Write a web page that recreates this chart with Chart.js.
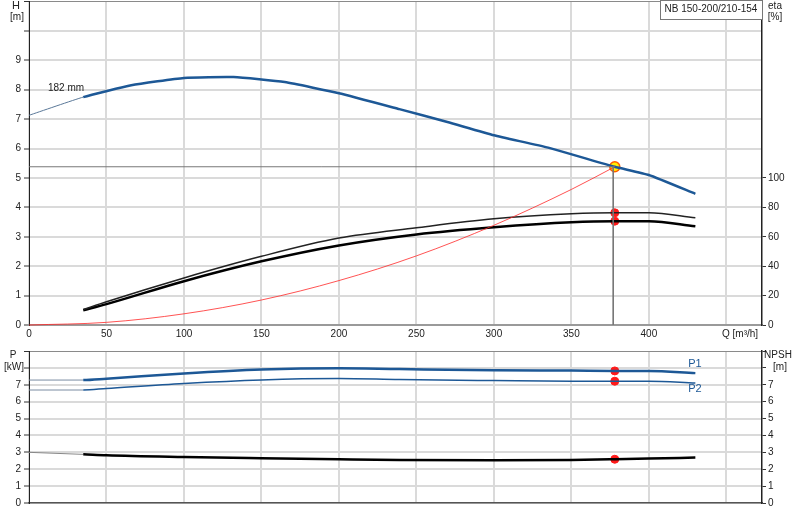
<!DOCTYPE html>
<html lang="en">
<head>
<meta charset="UTF-8">
<title>NB 150-200/210-154</title>
<script src="https://cdn.jsdelivr.net/npm/chart.js"></script>
<style>
    body { margin: 0; background: #fff; }
    #wrap { position: relative; width: 800px; height: 520px; overflow: hidden; }
    #top { position: absolute; left: 0; top: -5px; }
    #bottom { position: absolute; left: 0; top: 345px; }
</style>
</head>
<body>
<div id="wrap">
    <canvas id="top" width="800" height="350"></canvas>
    <canvas id="bottom" width="800" height="175"></canvas>
</div>
<script>
    // head curve, 182 mm impeller
    const headQ = [0, 35, 66, 100, 132, 165, 200, 239, 270, 300, 335, 378, 400, 430];
    const headH = [7.13, 7.75, 8.15, 8.40, 8.43, 8.26, 7.88, 7.34, 6.90, 6.45, 6.03, 5.38, 5.10, 4.46];

    // efficiency curves [%]
    const etaQ = [35, 50, 100, 150, 200, 250, 300, 350, 378, 400, 430];
    const etaUpper = [10.5, 15.8, 32.0, 46.7, 59.1, 66.1, 72.2, 75.6, 76.3, 76.3, 72.9];
    const etaLower = [10, 14.2, 29.8, 43.3, 54.1, 61.6, 66.5, 69.9, 70.6, 70.6, 67.2];

    // system curve
    const sysQ = [0, 50, 100, 150, 200, 250, 300, 350, 378];
    const sysH = [0, 0.09, 0.38, 0.85, 1.51, 2.35, 3.39, 4.61, 5.38];

    // duty point
    const dutyQ = 378;
    const dutyH = 5.38;
    const dutyEta = [76.3, 70.6];

    // power and NPSH
    const powQ = [0, 35, 50, 100, 150, 200, 239, 300, 350, 378, 400, 430];
    const p1 = [7.28, 7.28, 7.36, 7.67, 7.90, 7.98, 7.93, 7.86, 7.84, 7.82, 7.82, 7.69];
    const p2 = [6.69, 6.69, 6.78, 7.08, 7.29, 7.37, 7.31, 7.25, 7.21, 7.21, 7.21, 7.10];
    const npsh = [3.0, 2.88, 2.82, 2.72, 2.65, 2.59, 2.55, 2.53, 2.55, 2.59, 2.63, 2.69];
    const dutyP = [7.82, 7.21];
    const dutyNpsh = 2.59;

    const qTicks = [0, 50, 100, 150, 200, 250, 300, 350, 400, 450];
    const etaTicks = [0, 20, 40, 60, 80, 100];

    const BLUE = '#1d5896';
    const FONT = "'Liberation Sans', Arial, sans-serif";
    Chart.defaults.font.family = FONT;
    Chart.defaults.font.size = 10;
    Chart.defaults.color = '#222';

    const xy = (xs, ys) => xs.map((x, i) => ({ x: x, y: ys[i] }));
    // first segment (0..35) is the thin extrapolated part
    const thinFirst = (thin, thick) => ctx => ctx.p0DataIndex === 0 ? thin : thick;

    const fixY = w => s => { s.width = w; s.paddingTop = 0; s.paddingBottom = 0; };
    const fixX = h => s => { s.height = h; s.paddingLeft = 0; s.paddingRight = 0; };
    const onlyTicks = list => s => { s.ticks = s.ticks.filter(t => list.includes(t.value)); };

    const gridColor = top => ctx => ctx.tick && ctx.tick.value === top ? '#8a8a8a' : '#dadada';
    const gridWidth = top => ctx => ctx.tick && ctx.tick.value === top ? 1 : 2;

    function texts(list, dy) {
        return {
            id: 'texts',
            afterDraw(chart) {
                const c = chart.ctx;
                c.save();
                c.translate(0, dy || 0);
                list.forEach(t => {
                    if (t.box) {
                        c.fillStyle = '#fff';
                        c.fillRect(t.box[0], t.box[1], t.box[2], t.box[3]);
                        c.strokeStyle = '#777';
                        c.lineWidth = 1;
                        c.strokeRect(t.box[0] + 0.5, t.box[1] + 0.5, t.box[2], t.box[3]);
                    }
                    c.font = (t.size || 10) + 'px ' + FONT;
                    c.fillStyle = t.color || '#222';
                    c.textAlign = t.align || 'center';
                    c.textBaseline = 'middle';
                    c.fillText(t.text, t.x, t.y);
                });
                c.restore();
            }
        };
    }

    new Chart(document.getElementById('top'), {
        type: 'line',
        data: {
            datasets: [
                {
                    data: [{ x: 0, y: dutyH }, { x: dutyQ, y: dutyH }],
                    borderColor: '#777', borderWidth: 1, pointRadius: 0
                },
                {
                    data: [{ x: dutyQ - 1, y: dutyH }, { x: dutyQ - 1, y: 0 }],
                    borderColor: '#777', borderWidth: 1, pointRadius: 0
                },
                {
                    data: xy(sysQ, sysH),
                    borderColor: 'rgba(255,40,40,0.8)', borderWidth: 1, pointRadius: 0,
                    cubicInterpolationMode: 'monotone'
                },
                {
                    data: xy(headQ, headH),
                    borderColor: BLUE, borderWidth: 2.5, pointRadius: 0, tension: 0.15,
                    segment: {
                        borderWidth: thinFirst(1, 2.5),
                        borderColor: thinFirst('#5a7898', BLUE)
                    }
                },
                {
                    data: xy(etaQ, etaUpper), yAxisID: 'y2',
                    borderColor: '#222', borderWidth: 1.5, pointRadius: 0,
                    cubicInterpolationMode: 'monotone'
                },
                {
                    data: xy(etaQ, etaLower), yAxisID: 'y2',
                    borderColor: '#000', borderWidth: 2.5, pointRadius: 0,
                    cubicInterpolationMode: 'monotone'
                },
                {
                    type: 'scatter', yAxisID: 'y2',
                    data: dutyEta.map(e => ({ x: dutyQ, y: e })),
                    backgroundColor: '#ff1a1a', borderColor: '#ff1a1a', pointRadius: 4
                },
                {
                    type: 'scatter',
                    data: [{ x: dutyQ, y: dutyH }],
                    backgroundColor: '#ffee00', borderColor: '#ff5a00', borderWidth: 1.5, pointRadius: 5
                }
            ]
        },
        options: {
            responsive: false,
            animation: false,
            clip: false,
            layout: { padding: 0 },
            plugins: { legend: { display: false }, tooltip: { enabled: false } },
            scales: {
                x: {
                    type: 'linear', min: 0, max: 473,
                    afterBuildTicks: onlyTicks(qTicks),
                    afterFit: fixX(20),
                    ticks: { padding: 3, callback: v => v === 450 ? '' : v },
                    grid: { color: '#dadada', lineWidth: 2, drawTicks: false },
                    border: { color: '#9a9a9a', width: 2 }
                },
                y: {
                    min: 0, max: 11,
                    afterFit: fixY(29),
                    ticks: { stepSize: 1, padding: 3, callback: v => v <= 9 ? v : '' },
                    grid: { color: gridColor(11), lineWidth: gridWidth(11), tickLength: 5, tickColor: '#333', tickWidth: 1 },
                    border: { color: '#222', width: 1 }
                },
                y2: {
                    position: 'right', min: 0, max: 220,
                    afterBuildTicks: onlyTicks(etaTicks),
                    afterFit: fixY(38),
                    ticks: { stepSize: 20, padding: 2 },
                    grid: { drawOnChartArea: false, tickLength: 4, tickColor: '#333', tickWidth: 1 },
                    border: { color: '#222', width: 1.5 }
                }
            }
        },
        plugins: [texts([
            { text: 'H', x: 16, y: 6, size: 11 },
            { text: '[m]', x: 17, y: 17 },
            { text: 'eta', x: 775, y: 6 },
            { text: '[%]', x: 775, y: 17 },
            { text: '182 mm', x: 48, y: 88, align: 'left' },
            { text: 'Q [m³/h]', x: 722, y: 334, align: 'left' },
            { text: 'NB 150-200/210-154', x: 711, y: 9, box: [660, 0, 102, 19] }
        ], 5)]
    });

    new Chart(document.getElementById('bottom'), {
        type: 'line',
        data: {
            datasets: [
                {
                    data: xy(powQ, p1),
                    borderColor: BLUE, borderWidth: 2.5, pointRadius: 0,
                    cubicInterpolationMode: 'monotone',
                    segment: {
                        borderWidth: thinFirst(1, 2.5),
                        borderColor: thinFirst('#7a8ca2', BLUE)
                    }
                },
                {
                    data: xy(powQ, p2),
                    borderColor: BLUE, borderWidth: 1.5, pointRadius: 0,
                    cubicInterpolationMode: 'monotone',
                    segment: {
                        borderWidth: thinFirst(1, 1.5),
                        borderColor: thinFirst('#7a8ca2', BLUE)
                    }
                },
                {
                    data: xy(powQ, npsh), yAxisID: 'y2',
                    borderColor: '#000', borderWidth: 2.5, pointRadius: 0,
                    cubicInterpolationMode: 'monotone',
                    segment: {
                        borderWidth: thinFirst(1, 2.5),
                        borderColor: thinFirst('#888', '#000')
                    }
                },
                {
                    type: 'scatter',
                    data: dutyP.map(p => ({ x: dutyQ, y: p })),
                    backgroundColor: '#ff1a1a', borderColor: '#ff1a1a', pointRadius: 4
                },
                {
                    type: 'scatter', yAxisID: 'y2',
                    data: [{ x: dutyQ, y: dutyNpsh }],
                    backgroundColor: '#ff1a1a', borderColor: '#ff1a1a', pointRadius: 4
                }
            ]
        },
        options: {
            responsive: false,
            animation: false,
            clip: false,
            layout: { padding: { top: 6 } },
            plugins: { legend: { display: false }, tooltip: { enabled: false } },
            scales: {
                x: {
                    type: 'linear', min: 0, max: 473,
                    afterBuildTicks: onlyTicks(qTicks),
                    afterFit: fixX(17),
                    ticks: { display: false },
                    grid: { color: '#dadada', lineWidth: 2, drawTicks: false },
                    border: { color: '#555', width: 1.5 }
                },
                y: {
                    min: 0, max: 9,
                    afterFit: fixY(29),
                    ticks: { stepSize: 1, padding: 3, callback: v => v <= 7 ? v : '' },
                    grid: { color: gridColor(9), lineWidth: gridWidth(9), tickLength: 5, tickColor: '#333', tickWidth: 1 },
                    border: { color: '#222', width: 1 }
                },
                y2: {
                    position: 'right', min: 0, max: 9,
                    afterFit: fixY(38),
                    ticks: { stepSize: 1, padding: 2, callback: v => v <= 7 ? v : '' },
                    grid: { drawOnChartArea: false, tickLength: 4, tickColor: '#333', tickWidth: 1 },
                    border: { color: '#222', width: 1.5 }
                }
            }
        },
        plugins: [texts([
            { text: 'P', x: 13, y: 10 },
            { text: '[kW]', x: 14, y: 22 },
            { text: 'NPSH', x: 778, y: 10 },
            { text: '[m]', x: 780, y: 22 },
            { text: 'P1', x: 695, y: 19, color: BLUE, size: 11 },
            { text: 'P2', x: 695, y: 44, color: BLUE, size: 11 }
        ])]
    });
</script>
</body>
</html>
